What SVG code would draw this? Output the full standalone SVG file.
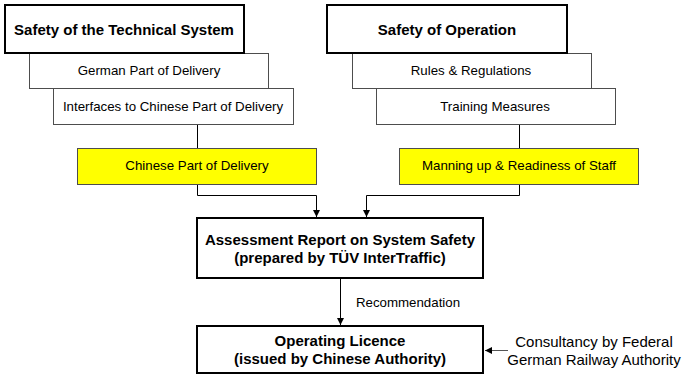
<svg xmlns="http://www.w3.org/2000/svg" width="683" height="376" viewBox="0 0 683 376">
<defs>
<style>
.big{fill:#fff;stroke:#000;stroke-width:2}
.sub{fill:#fff;stroke:#4d4d4d;stroke-width:1}
.yel{fill:#ffff00;stroke:#4d4d4d;stroke-width:1}
.tb{font-family:"Liberation Sans",Arial,sans-serif;font-size:15px;font-weight:bold;fill:#000;text-anchor:middle}
.tr{font-family:"Liberation Sans",Arial,sans-serif;font-size:13.3px;fill:#000;text-anchor:middle}
.tc{font-family:"Liberation Sans",Arial,sans-serif;font-size:15px;fill:#000;text-anchor:middle}
.ln{fill:none;stroke:#000;stroke-width:1}
</style>
<marker id="ah" markerWidth="8" markerHeight="8" refX="7" refY="3.5" orient="auto" markerUnits="userSpaceOnUse">
<path d="M0,0 L7,3.5 L0,7 Z" fill="#000"/>
</marker>
</defs>
<rect width="683" height="376" fill="#fff"/>
<g id="connectors">
<line class="ln" x1="197.5" y1="124" x2="197.5" y2="148"/>
<line class="ln" x1="519.5" y1="124" x2="519.5" y2="148"/>
<polyline class="ln" points="197.5,184 197.5,195.5 316.5,195.5 316.5,217" marker-end="url(#ah)"/>
<polyline class="ln" points="519.5,184 519.5,195.5 366.5,195.5 366.5,217" marker-end="url(#ah)"/>
<line class="ln" x1="340.5" y1="279" x2="340.5" y2="325" marker-end="url(#ah)"/>
<line x1="508" y1="350.5" x2="485" y2="350.5" stroke="#555" stroke-width="1" marker-end="url(#ah)"/>
<text class="tr" x="408" y="307">Recommendation</text>
</g>
<g id="n_tech_german">
<rect class="sub" x="29.5" y="53.5" width="239" height="35"/>
<text class="tr" x="149" y="75">German Part of Delivery</text>
</g>
<g id="n_tech_interfaces">
<rect class="sub" x="53.5" y="88.5" width="240" height="36"/>
<text class="tr" x="173" y="111">Interfaces to Chinese Part of Delivery</text>
</g>
<g id="n_tech">
<rect class="big" x="5" y="5" width="239" height="48"/>
<text class="tb" x="124" y="34.5">Safety of the Technical System</text>
</g>
<g id="n_chinese">
<rect class="yel" x="77.5" y="148.5" width="239" height="36"/>
<text class="tr" x="197" y="170">Chinese Part of Delivery</text>
</g>
<g id="n_op_rules">
<rect class="sub" x="352.5" y="53.5" width="239" height="35"/>
<text class="tr" x="471" y="75">Rules &amp; Regulations</text>
</g>
<g id="n_op_training">
<rect class="sub" x="376.5" y="88.5" width="239" height="36"/>
<text class="tr" x="495" y="111">Training Measures</text>
</g>
<g id="n_op">
<rect class="big" x="327" y="5" width="240" height="48"/>
<text class="tb" x="447" y="34.5">Safety of Operation</text>
</g>
<g id="n_manning">
<rect class="yel" x="399.5" y="148.5" width="239" height="36"/>
<text class="tr" x="519" y="170">Manning up &amp; Readiness of Staff</text>
</g>
<g id="n_assessment">
<rect class="big" x="197" y="218" width="286" height="60"/>
<text class="tb" x="340" y="245">Assessment Report on System Safety</text>
<text class="tb" x="340" y="263">(prepared by TÜV InterTraffic)</text>
</g>
<g id="n_licence">
<rect class="big" x="197" y="326" width="286" height="47"/>
<text class="tb" x="340" y="346">Operating Licence</text>
<text class="tb" x="340" y="364">(issued by Chinese Authority)</text>
</g>
<g id="n_consultancy">
<text class="tc" x="594" y="347">Consultancy by Federal</text>
<text class="tc" x="594" y="365">German Railway Authority</text>
</g>
</svg>
